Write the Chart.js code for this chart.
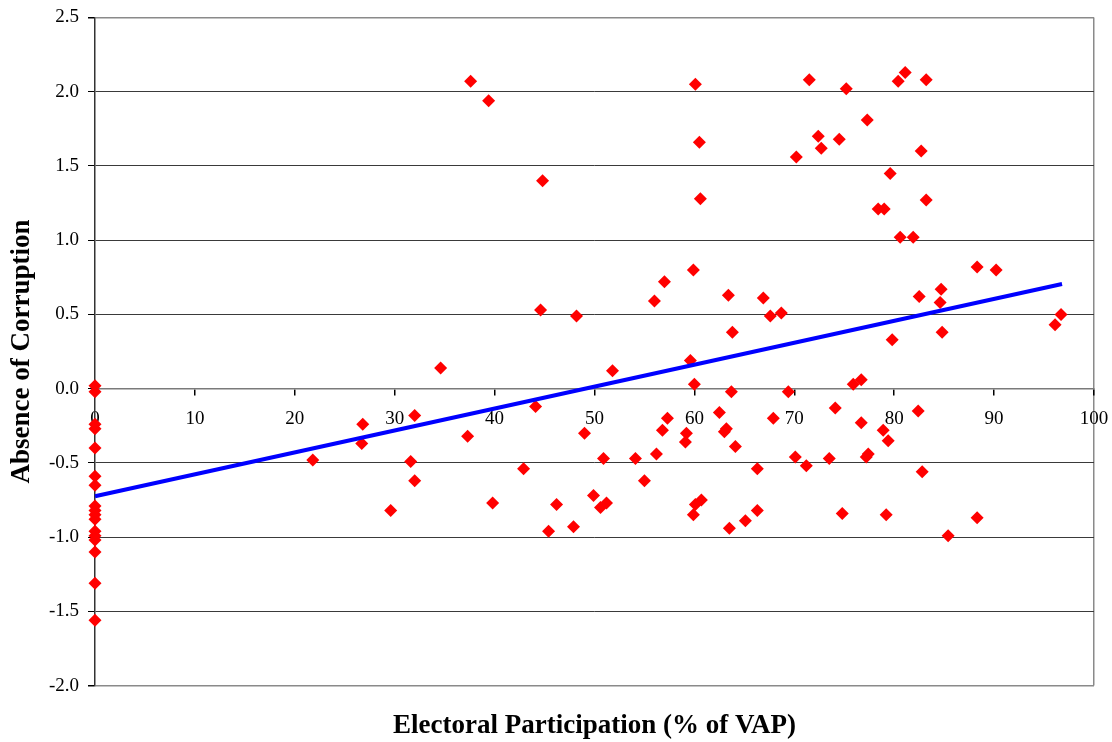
<!DOCTYPE html>
<html>
<head>
<meta charset="utf-8">
<title>Electoral Participation and Corruption</title>
<script src="https://cdn.jsdelivr.net/npm/chart.js@4.4.1/dist/chart.umd.min.js"></script>
<style>
    html, body { margin: 0; padding: 0; background: #fff; }
    #wrap { width: 1112px; height: 742px; position: relative; }
</style>
</head>
<body>
<div id="wrap"><canvas id="participationChart"></canvas></div>
<script>
// Turnout (% of voting-age population) for each country
const participation = [
    0, 0, 0, 0, 0, 0, 0, 0, 0, 0, 0, 0, 0, 0, 0, 0, 0,
    21.8, 26.8, 26.7, 29.6, 31.6, 32.0, 32.0, 34.6, 37.3, 37.6,
    39.4, 39.8, 42.9, 44.1, 44.6, 44.8, 45.4, 46.2, 47.9, 48.2,
    49.0, 49.9, 50.6, 50.9, 51.2, 51.8, 54.1, 55.0, 56.0, 56.2,
    56.8, 57.0, 57.3, 59.1, 59.2, 59.6, 59.9, 59.9, 60.0, 60.1,
    60.1, 60.5, 60.6, 60.7, 62.5, 63.0, 63.2, 63.4, 63.5, 63.7,
    63.8, 64.1, 65.1, 66.3, 66.3, 66.9, 67.6, 67.9, 68.7, 69.4,
    70.1, 70.2, 71.2, 71.5, 72.4, 72.7, 73.5, 74.1, 74.5, 74.8,
    75.2, 75.9, 76.7, 76.7, 77.2, 77.3, 77.4, 78.4, 78.9, 79.0,
    79.2, 79.4, 79.6, 79.8, 80.4, 80.6, 81.1, 81.9, 82.4, 82.5,
    82.7, 82.8, 83.2, 83.2, 84.6, 84.7, 84.8, 85.4, 88.3, 88.3,
    90.2, 96.1, 96.7
];

// Absence of corruption score, same order as above
const corruption = [
    0.02, -0.02, -0.24, -0.27, -0.40, -0.59, -0.65, -0.79, -0.82, -0.85, -0.88, -0.96, -0.99, -1.02, -1.10, -1.31, -1.56,
    -0.48, -0.24, -0.37, -0.82, -0.49, -0.18, -0.62, 0.14, -0.32, 2.07,
    1.94, -0.77, -0.54, -0.12, 0.53, 1.40, -0.96, -0.78, -0.93, 0.49,
    -0.30, -0.72, -0.80, -0.47, -0.77, 0.12, -0.47, -0.62, 0.59, -0.44,
    -0.28, 0.72, -0.20, -0.36, -0.30, 0.19, 0.80, -0.85, 0.03, 2.05,
    -0.78, 1.66, 1.28, -0.75, -0.16, -0.29, -0.27, 0.63, -0.94, -0.02,
    0.38, -0.39, -0.89, -0.54, -0.82, 0.61, 0.49, -0.20, 0.51, -0.02,
    -0.46, 1.56, -0.52, 2.08, 1.70, 1.62, -0.47, -0.13, 1.68, -0.84,
    2.02, 0.03, 0.06, -0.23, -0.46, 1.81, -0.44, 1.21, -0.28, 1.21,
    -0.85, -0.35, 1.45, 0.33, 2.07, 1.02, 2.13, 1.02, -0.15, 0.62,
    1.60, -0.56, 2.08, 1.27, 0.58, 0.67, 0.38, -0.99, 0.82, -0.87,
    0.80, 0.43, 0.50
];

// Linear trend, drawn between its two end points
const trendX = [0, 96.8];
const trendY = [-0.725, 0.705];

// Axis ticks
const xTicks = [0, 10, 20, 30, 40, 50, 60, 70, 80, 90, 100];
const yTicks = [2.5, 2.0, 1.5, 1.0, 0.5, 0.0, -0.5, -1.0, -1.5, -2.0];

const serif = "'Liberation Serif', 'Times New Roman', serif";

const points = participation.map((x, i) => ({ x: x, y: corruption[i] }));
const trend = trendX.map((x, i) => ({ x: x, y: trendY[i] }));

new Chart(document.getElementById('participationChart'), {
    type: 'scatter',
    data: {
        datasets: [{
            label: 'Trend',
            data: trend,
            showLine: true,
            borderColor: '#0000ff',
            borderWidth: 4,
            pointRadius: 0,
            clip: false,
            order: 0
        },
        {
            label: 'Countries',
            data: points,
            pointStyle: 'rectRot',
            pointRadius: 6.5,
            pointBorderWidth: 0,
            backgroundColor: '#ff0000',
            borderColor: '#ff0000',
            clip: false,
            order: 1
        }]
    },
    options: {
        responsive: true,
        maintainAspectRatio: false,
        animation: false,
        layout: {
            padding: { top: 17.5, right: 18, bottom: 0, left: 0 }
        },
        plugins: {
            legend: { display: false },
            tooltip: { enabled: false },
            title: {
                display: true,
                text: 'Electoral Participation (% of VAP)',
                position: 'bottom',
                fullSize: false,
                color: '#000',
                font: { family: serif, size: 27, weight: 'bold' },
                padding: { top: 24, bottom: 0 }
            }
        },
        scales: {
            x: {
                type: 'linear',
                position: { y: 0 },
                min: 0,
                max: 100,
                afterBuildTicks: function(scale) {
                    scale.ticks = xTicks.map(v => ({ value: v }));
                },
                afterFit: function(scale) {
                    // the end labels may hang past the plot edges
                    scale.paddingLeft = 0;
                    scale.paddingRight = 0;
                },
                ticks: {
                    color: '#000',
                    font: { family: serif, size: 19 },
                    padding: 13,
                    maxRotation: 0
                },
                grid: {
                    // only the right-hand frame line is drawn across the plot
                    color: ctx => ctx.tick && ctx.tick.value === 100 ? '#8a8a8a' : 'rgba(0,0,0,0)',
                    tickColor: '#000',
                    tickLength: 6,
                    lineWidth: 1.5
                },
                border: { color: '#7a7a7a', width: 1.5 }
            },
            y: {
                type: 'linear',
                min: -2,
                max: 2.5,
                afterBuildTicks: function(scale) {
                    scale.ticks = yTicks.map(v => ({ value: v }));
                },
                afterFit: function(scale) {
                    scale.width = 95;
                    scale.paddingTop = 0;
                    scale.paddingBottom = 0;
                },
                ticks: {
                    color: '#000',
                    font: { family: serif, size: 19 },
                    padding: 9,
                    callback: v => v.toFixed(1)
                },
                grid: {
                    color: ctx => {
                        const v = ctx.tick ? ctx.tick.value : null;
                        return (v === 2.5 || v === -2) ? '#8a8a8a' : '#3a3a3a';
                    },
                    lineWidth: ctx => {
                        const v = ctx.tick ? ctx.tick.value : null;
                        return (v === 2.5 || v === -2) ? 1.5 : 1;
                    },
                    tickColor: '#000',
                    tickLength: 7
                },
                border: { color: '#333', width: 1.5 },
                title: {
                    display: true,
                    text: 'Absence of Corruption',
                    color: '#000',
                    font: { family: serif, size: 27, weight: 'bold' },
                    padding: { top: 6, bottom: 0 }
                }
            }
        }
    }
});
</script>
</body>
</html>
